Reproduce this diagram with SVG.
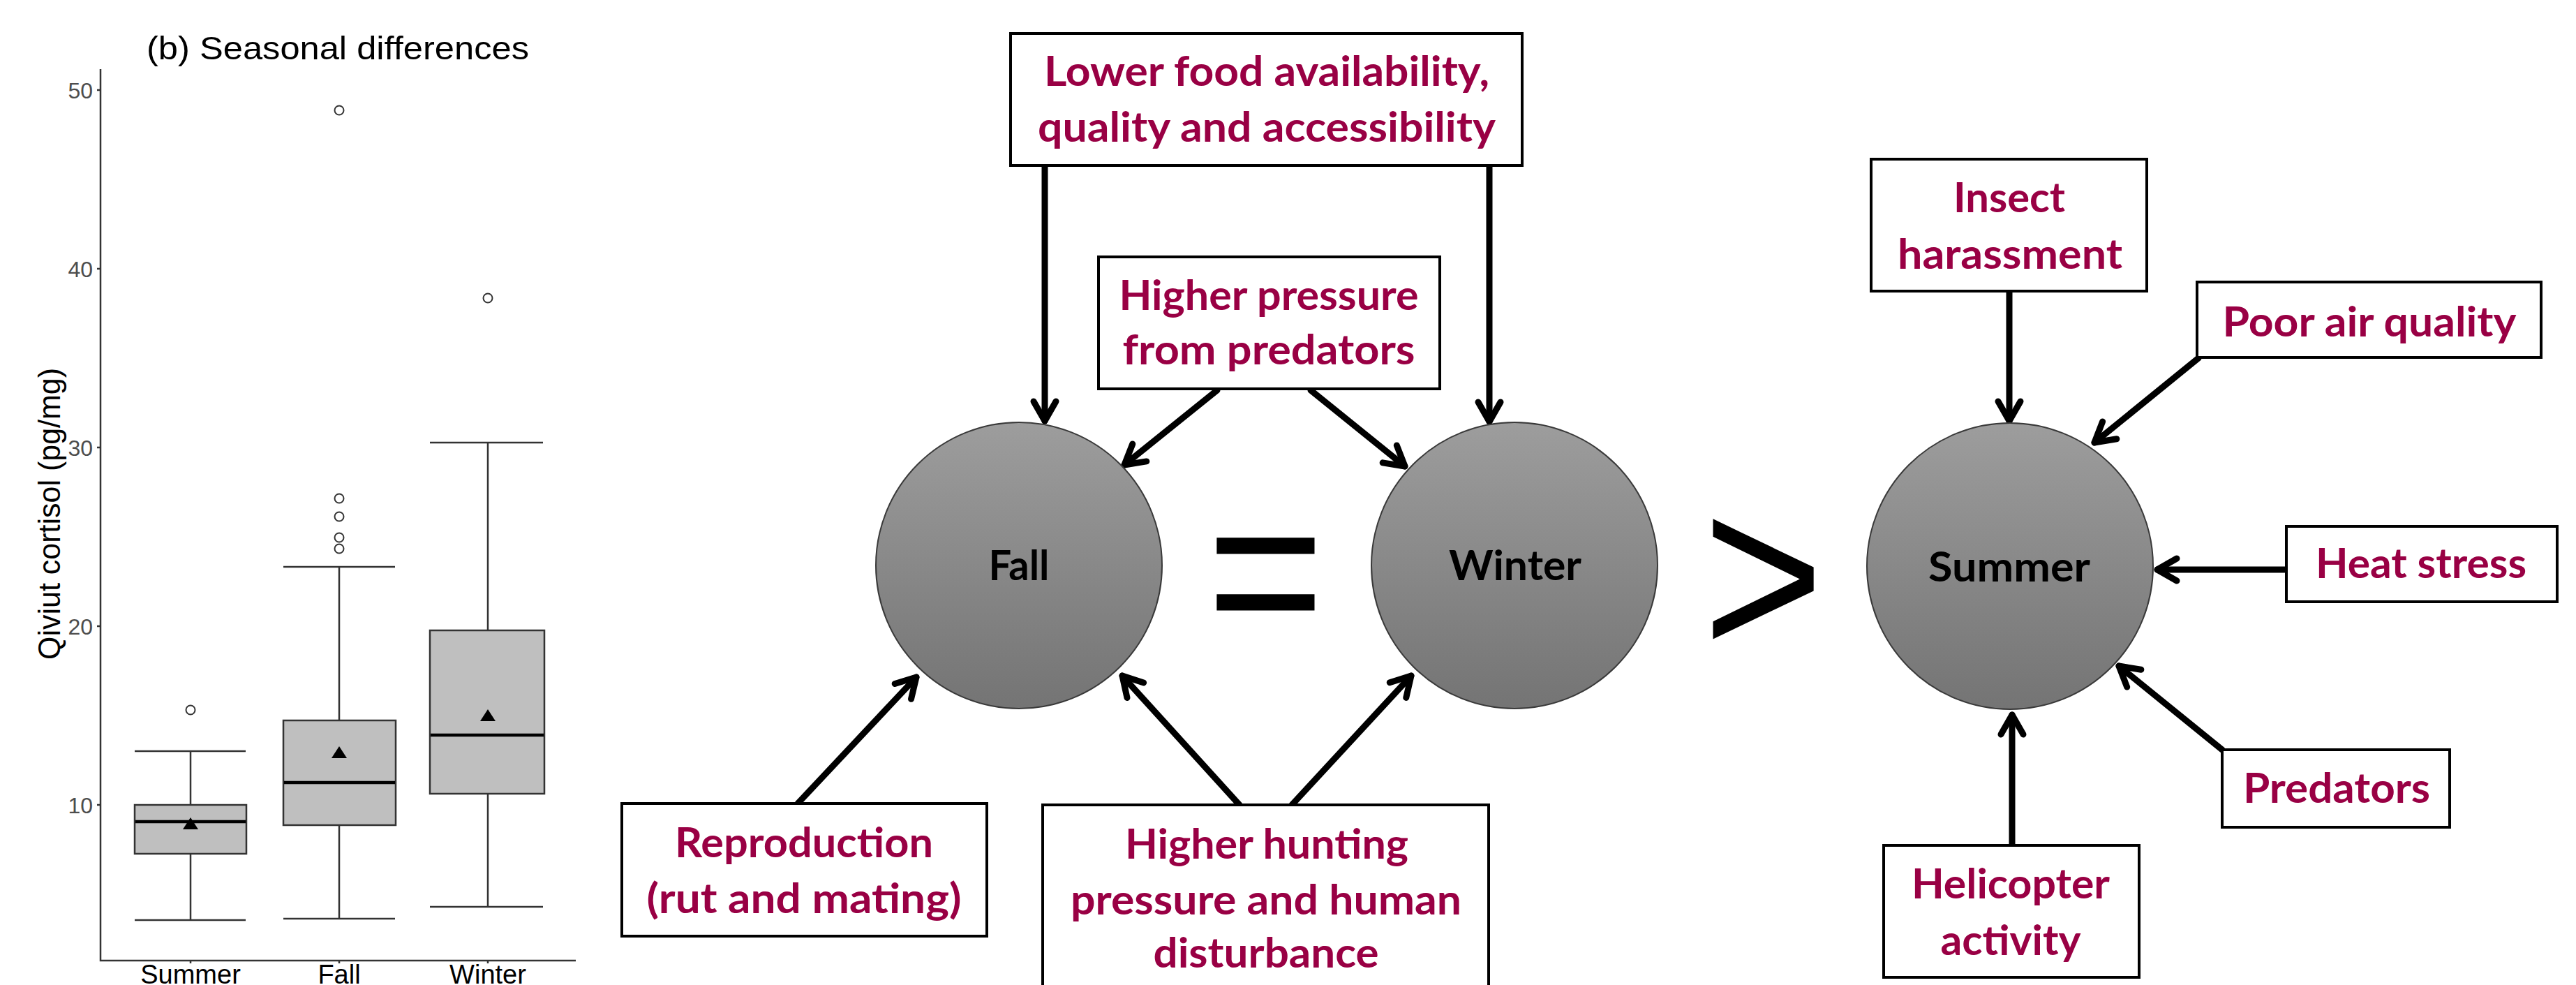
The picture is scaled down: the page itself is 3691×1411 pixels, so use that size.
<svg xmlns="http://www.w3.org/2000/svg" width="3691" height="1411" viewBox="0 0 3691 1411">
<defs>
<linearGradient id="g" x1="0" y1="0" x2="0" y2="1">
<stop offset="0" stop-color="#9d9d9d"/>
<stop offset="1" stop-color="#747474"/>
</linearGradient>
<marker id="ah" viewBox="-45 -30 60 60" markerWidth="60" markerHeight="60" refX="0" refY="0" orient="auto" markerUnits="userSpaceOnUse">
<path d="M-28,-16 L0,0 L-28,16" fill="none" stroke="#000" stroke-width="9" stroke-linecap="round" stroke-linejoin="round"/>
</marker>
</defs>
<style>
.box{fill:#fff;stroke:#000;stroke-width:4}
.lbl{font-family:Lato,"Liberation Sans",sans-serif;font-weight:bold;font-size:60px;fill:#990044;text-anchor:middle}
.season{font-family:Lato,"Liberation Sans",sans-serif;font-weight:bold;font-size:60px;fill:#000;text-anchor:middle}
.circ{fill:url(#g);stroke:#3a3a3a;stroke-width:2}
.conn{stroke:#000;stroke-width:9;fill:none;stroke-linecap:round;marker-end:url(#ah)}
.ax{stroke:#333;stroke-width:2.5;fill:none}
.bx{fill:#bfbfbf;stroke:#333;stroke-width:2.5}
.wh{stroke:#333;stroke-width:2.5}
.med{stroke:#000;stroke-width:4.5}
.out{fill:none;stroke:#333;stroke-width:2}
.mean{fill:#000}
.tick{font-family:"Liberation Sans",Arial,sans-serif;font-size:32px;fill:#4d4d4d;text-anchor:end}
.xl{font-family:"Liberation Sans",Arial,sans-serif;font-size:38px;fill:#000;text-anchor:middle}
.op{font-family:"Liberation Sans",Arial,sans-serif;fill:#000;text-anchor:middle}
</style>

<g id="chart">
<text x="210" y="85" font-family="Liberation Sans, Arial, sans-serif" font-size="47" fill="#000" textLength="548" lengthAdjust="spacingAndGlyphs">(b) Seasonal differences</text>
<text transform="translate(86,736) rotate(-90)" font-family="Liberation Sans, Arial, sans-serif" font-size="45" fill="#000" text-anchor="middle" textLength="418" lengthAdjust="spacingAndGlyphs">Qiviut cortisol (pg/mg)</text>
<path class="ax" d="M144,99 V1376 H825"/>
<path class="ax" d="M139,1153 H144 M139,897 H144 M139,641 H144 M139,385 H144 M139,129 H144 M273,1376 V1380 M486,1376 V1380 M699,1376 V1380"/>
<text class="tick" x="133" y="1165">10</text>
<text class="tick" x="133" y="909">20</text>
<text class="tick" x="133" y="653">30</text>
<text class="tick" x="133" y="397">40</text>
<text class="tick" x="133" y="141">50</text>
<text class="xl" x="273" y="1409">Summer</text>
<text class="xl" x="486" y="1409">Fall</text>
<text class="xl" x="699" y="1409">Winter</text>
<!-- Summer -->
<path class="wh" d="M273,1076 V1153 M273,1223 V1318 M193,1076 H352 M193,1318 H352"/>
<rect class="bx" x="193" y="1153" width="160" height="70"/>
<line class="med" x1="194" y1="1177" x2="352" y2="1177"/>
<circle class="out" cx="273" cy="1017" r="6.5"/>
<path class="mean" d="M273,1171 L284,1188 L262,1188 Z"/>
<!-- Fall -->
<path class="wh" d="M486,812 V1032 M486,1182 V1316 M406,812 H566 M406,1316 H566"/>
<rect class="bx" x="406" y="1032" width="161" height="150"/>
<line class="med" x1="407" y1="1121" x2="566" y2="1121"/>
<circle class="out" cx="486" cy="158" r="6.5"/>
<circle class="out" cx="486" cy="714" r="6.5"/>
<circle class="out" cx="486" cy="740" r="6.5"/>
<circle class="out" cx="486" cy="770" r="6.5"/>
<circle class="out" cx="486" cy="786" r="6.5"/>
<path class="mean" d="M486,1069 L497,1086 L475,1086 Z"/>
<!-- Winter -->
<path class="wh" d="M699,634 V903 M699,1137 V1299 M616,634 H778 M616,1299 H778"/>
<rect class="bx" x="616" y="903" width="164" height="234"/>
<line class="med" x1="617" y1="1053" x2="779" y2="1053"/>
<circle class="out" cx="699" cy="427" r="6.5"/>
<path class="mean" d="M699,1016 L710,1033 L688,1033 Z"/>
</g>

<g id="connectors">
<line class="conn" x1="1497" y1="237" x2="1497" y2="603"/>
<line class="conn" x1="2134" y1="237" x2="2134" y2="604"/>
<line class="conn" x1="1744" y1="559" x2="1611" y2="666"/>
<line class="conn" x1="1878" y1="559" x2="2013" y2="668"/>
<line class="conn" x1="1143" y1="1151" x2="1313" y2="970"/>
<line class="conn" x1="1776" y1="1153" x2="1608" y2="968"/>
<line class="conn" x1="1851" y1="1153" x2="2022" y2="968"/>
<line class="conn" x1="2879" y1="417" x2="2879" y2="603"/>
<line class="conn" x1="3150" y1="513" x2="3001" y2="634"/>
<line class="conn" x1="3276" y1="816" x2="3091" y2="816"/>
<line class="conn" x1="3184" y1="1074" x2="3036" y2="954"/>
<line class="conn" x1="2883" y1="1211" x2="2883" y2="1024"/>
</g>

<g id="node-food">
<rect class="box" x="1448" y="48" width="733" height="189"/>
<text class="lbl" x="1815" y="123" textLength="638" lengthAdjust="spacingAndGlyphs">Lower food availability,</text>
<text class="lbl" x="1815" y="203" textLength="656" lengthAdjust="spacingAndGlyphs">quality and accessibility</text>
</g>
<g id="node-predpressure">
<rect class="box" x="1574" y="368" width="489" height="189"/>
<text class="lbl" x="1818" y="444" textLength="429" lengthAdjust="spacingAndGlyphs">Higher pressure</text>
<text class="lbl" x="1818" y="522" textLength="419" lengthAdjust="spacingAndGlyphs">from predators</text>
</g>
<g id="node-fall">
<circle class="circ" cx="1460" cy="810" r="205"/>
<text class="season" x="1460" y="831" textLength="87" lengthAdjust="spacingAndGlyphs">Fall</text>
</g>
<g id="node-winter">
<circle class="circ" cx="2170" cy="810" r="205"/>
<text class="season" x="2171" y="831" textLength="190" lengthAdjust="spacingAndGlyphs">Winter</text>
</g>
<g id="node-summer">
<circle class="circ" cx="2880" cy="811" r="205"/>
<text class="season" x="2879" y="833" textLength="232" lengthAdjust="spacingAndGlyphs">Summer</text>
</g>
<g id="op-equal">
<text class="op" transform="translate(1813.5,929) scale(0.89,1)" font-size="324">=</text>
</g>
<g id="op-greater">
<text class="op" transform="translate(2526.5,941) scale(0.875,1)" font-size="339">&gt;</text>
</g>
<g id="node-reproduction">
<rect class="box" x="891" y="1151" width="523" height="190"/>
<text class="lbl" x="1152" y="1228" textLength="370" lengthAdjust="spacingAndGlyphs">Reproduction</text>
<text class="lbl" x="1152" y="1308" textLength="451" lengthAdjust="spacingAndGlyphs">(rut and mating)</text>
</g>
<g id="node-hunting">
<rect class="box" x="1494" y="1153" width="639" height="300"/>
<text class="lbl" x="1815" y="1230" textLength="406" lengthAdjust="spacingAndGlyphs">Higher hunting</text>
<text class="lbl" x="1814" y="1310" textLength="560" lengthAdjust="spacingAndGlyphs">pressure and human</text>
<text class="lbl" x="1814" y="1386" textLength="323" lengthAdjust="spacingAndGlyphs">disturbance</text>
</g>
<g id="node-insect">
<rect class="box" x="2681" y="228" width="395" height="189"/>
<text class="lbl" x="2879" y="304" textLength="160" lengthAdjust="spacingAndGlyphs">Insect</text>
<text class="lbl" x="2880" y="385" textLength="322" lengthAdjust="spacingAndGlyphs">harassment</text>
</g>
<g id="node-air">
<rect class="box" x="3148" y="404" width="493" height="108"/>
<text class="lbl" x="3395" y="482" textLength="421" lengthAdjust="spacingAndGlyphs">Poor air quality</text>
</g>
<g id="node-heat">
<rect class="box" x="3276" y="754" width="388" height="108"/>
<text class="lbl" x="3469" y="828" textLength="302" lengthAdjust="spacingAndGlyphs">Heat stress</text>
</g>
<g id="node-predators">
<rect class="box" x="3184" y="1074" width="326" height="111"/>
<text class="lbl" x="3348" y="1150" textLength="268" lengthAdjust="spacingAndGlyphs">Predators</text>
</g>
<g id="node-helicopter">
<rect class="box" x="2699" y="1211" width="366" height="189"/>
<text class="lbl" x="2881" y="1287" textLength="284" lengthAdjust="spacingAndGlyphs">Helicopter</text>
<text class="lbl" x="2881" y="1368" textLength="201" lengthAdjust="spacingAndGlyphs">activity</text>
</g>
</svg>
